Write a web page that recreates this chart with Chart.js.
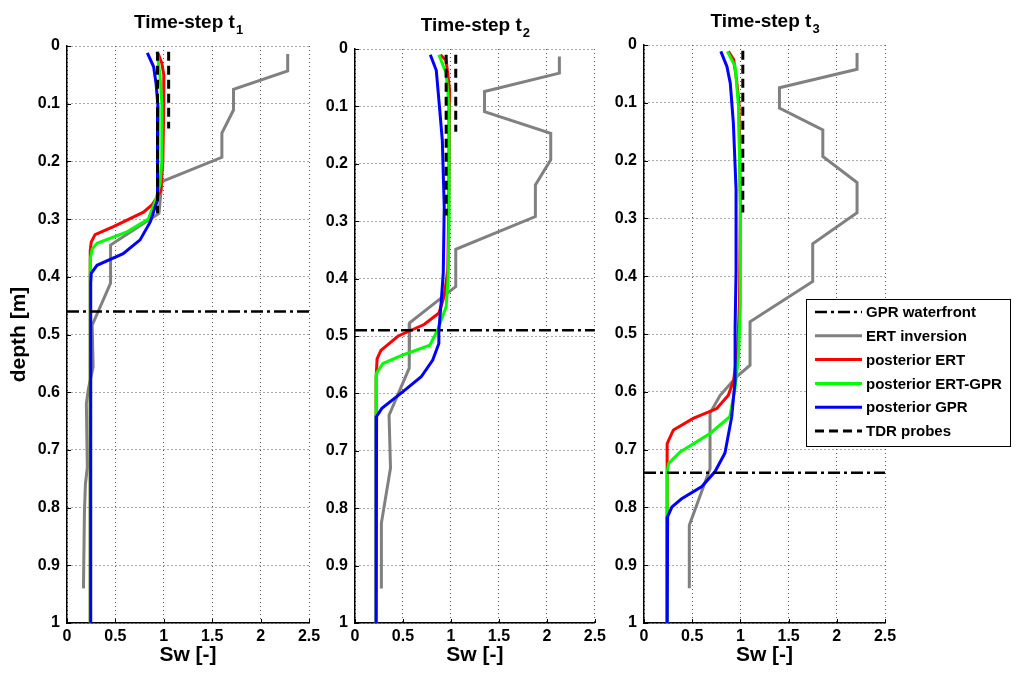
<!DOCTYPE html>
<html>
<head>
<meta charset="utf-8">
<title>Sw profiles</title>
<script src="https://cdn.jsdelivr.net/npm/chart.js@4.4.0/dist/chart.umd.min.js"></script>
<style>
  html, body { margin: 0; padding: 0; background: #fff; }
  body { width: 1018px; height: 673px; position: relative; overflow: hidden; }
  canvas { position: absolute; top: 0; }
</style>
</head>
<body>
<canvas id="chartT1" width="325" height="673" style="left:0px"></canvas>
<canvas id="chartT2" width="305" height="673" style="left:305px"></canvas>
<canvas id="chartT3" width="423" height="673" style="left:595px"></canvas>
<script>
// axis ticks
const depthTicks = [0, 0.1, 0.2, 0.3, 0.4, 0.5, 0.6, 0.7, 0.8, 0.9, 1];
const swTicks = [0, 0.5, 1, 1.5, 2, 2.5];

// profiles as [Sw, depth] pairs (null = gap)
// Time-step t1
const ertT1 = [[2.28,0.014],[2.28,0.043],[1.72,0.075],[1.72,0.111],[1.60,0.151],[1.60,0.193],[0.98,0.235],[0.95,0.29],[0.45,0.345],[0.45,0.411],[0.26,0.484],[0.27,0.556],[0.22,0.595],[0.20,0.62],[0.21,0.73],[0.19,0.76],[0.18,0.81],[0.17,0.94]];
const postErtT1 = [[0.94,0.012],[0.98,0.03],[1.0,0.05],[1.0,0.1],[0.99,0.2],[0.97,0.25],[0.92,0.265],[0.88,0.275],[0.79,0.288],[0.48,0.313],[0.29,0.327],[0.25,0.34],[0.24,0.355],[0.24,1.0]];
const postErtGprT1 = [[0.93,0.01],[0.96,0.05],[0.98,0.1],[0.98,0.2],[0.96,0.24],[0.92,0.265],[0.84,0.3],[0.62,0.322],[0.31,0.342],[0.26,0.352],[0.24,0.37],[0.24,0.403],[0.24,1.0]];
const postGprT1 = [[0.83,0.012],[0.895,0.036],[0.92,0.065],[0.94,0.105],[0.94,0.22],[0.93,0.267],[0.86,0.305],[0.755,0.336],[0.58,0.36],[0.31,0.38],[0.25,0.394],[0.245,0.411],[0.245,1.0]];
const tdrT1 = [[0.935,0.01],[0.935,0.29],null,[1.05,0.01],[1.05,0.143]];
const gprFrontT1 = 0.46;

// Time-step t2
const ertT2 = [[2.13,0.013],[2.13,0.042],[1.35,0.074],[1.35,0.109],[2.04,0.147],[2.04,0.193],[1.88,0.237],[1.88,0.292],[1.05,0.349],[1.05,0.414],[0.57,0.477],[0.565,0.556],[0.355,0.638],[0.37,0.73],[0.275,0.826],[0.275,0.94]];
const postErtT2 = [[0.89,0.01],[0.95,0.02],[0.985,0.07],[0.98,0.2],[0.975,0.3],[0.967,0.385],[0.93,0.43],[0.875,0.46],[0.72,0.48],[0.45,0.50],[0.27,0.525],[0.23,0.54],[0.22,0.575],[0.22,1.0]];
const postErtGprT2 = [[0.874,0.01],[0.95,0.042],[0.98,0.1],[0.98,0.3],[0.97,0.4],[0.95,0.449],[0.86,0.49],[0.78,0.516],[0.50,0.533],[0.29,0.548],[0.225,0.565],[0.22,0.643],[0.22,1.0]];
const postGprT2 = [[0.785,0.01],[0.847,0.037],[0.88,0.1],[0.91,0.159],[0.93,0.275],[0.92,0.39],[0.90,0.437],[0.874,0.49],[0.874,0.513],[0.81,0.542],[0.69,0.571],[0.50,0.597],[0.28,0.626],[0.225,0.64],[0.22,0.66],[0.22,1.0]];
const tdrT2 = [[0.95,0.01],[0.95,0.29],null,[1.05,0.01],[1.05,0.144]];
const gprFrontT2 = 0.49;

// Time-step t3
const ertT3 = [[2.21,0.014],[2.21,0.042],[1.405,0.074],[1.405,0.109],[1.855,0.147],[1.855,0.193],[2.21,0.238],[2.21,0.29],[1.75,0.344],[1.75,0.409],[1.10,0.479],[1.10,0.554],[0.96,0.574],[0.79,0.606],[0.685,0.637],[0.685,0.733],[0.47,0.831],[0.47,0.94]];
const postErtT3 = [[0.875,0.011],[0.93,0.025],[0.96,0.06],[0.985,0.1],[1.0,0.28],[0.99,0.45],[0.97,0.528],[0.93,0.58],[0.875,0.606],[0.755,0.629],[0.51,0.646],[0.305,0.666],[0.255,0.684],[0.24,0.69],[0.24,0.735],[0.24,1.0]];
const postErtGprT3 = [[0.865,0.011],[0.945,0.037],[0.98,0.106],[1.0,0.28],[1.0,0.45],[0.98,0.54],[0.945,0.594],[0.89,0.643],[0.685,0.672],[0.375,0.704],[0.255,0.724],[0.24,0.74],[0.24,0.825],[0.24,1.0]];
const postGprT3 = [[0.797,0.011],[0.86,0.037],[0.895,0.066],[0.927,0.135],[0.955,0.25],[0.955,0.39],[0.945,0.49],[0.945,0.58],[0.91,0.643],[0.84,0.706],[0.737,0.738],[0.60,0.764],[0.39,0.785],[0.29,0.799],[0.245,0.816],[0.24,0.83],[0.24,1.0]];
const tdrT3 = [[1.025,0.01],[1.025,0.29]];
const gprFrontT3 = 0.74;

// line styles, legend order
const FONT = '"Liberation Sans", Arial, sans-serif';
const styles = [
  { key: 'gpr',    label: 'GPR waterfront',     color: '#000000', width: 2.5, dash: [12, 4, 3, 4] },
  { key: 'ert',    label: 'ERT inversion',      color: '#808080', width: 3,   dash: [] },
  { key: 'pErt',   label: 'posterior ERT',      color: '#ff0000', width: 3,   dash: [] },
  { key: 'pErtGpr',label: 'posterior ERT-GPR',  color: '#00ff00', width: 3,   dash: [] },
  { key: 'pGpr',   label: 'posterior GPR',      color: '#0000ff', width: 3,   dash: [] },
  { key: 'tdr',    label: 'TDR probes',         color: '#000000', width: 3,   dash: [9, 5] }
];
const styleOf = k => styles.find(s => s.key === k);

function pts(arr) {
  return arr.map(p => p ? { x: p[0], y: p[1] } : { x: null, y: null });
}

function lineSet(key, data) {
  const s = styleOf(key);
  return {
    label: s.label, data: data,
    showLine: true, fill: false, pointRadius: 0, pointHoverRadius: 0,
    borderColor: s.color, backgroundColor: s.color,
    borderWidth: s.width, borderDash: s.dash, tension: 0, spanGaps: false
  };
}

// title with subscript, inside ticks, optional legend box
function decorPlugin(sub, withLegend) {
  return {
    id: 'decor',
    beforeDatasetsDraw(chart) {
      const { ctx, chartArea: a, scales } = chart;
      ctx.save();
      ctx.strokeStyle = '#000';
      ctx.lineWidth = 1;
      ctx.beginPath();
      swTicks.forEach(v => {
        const x = Math.round(scales.x.getPixelForValue(v)) + 0.5;
        ctx.moveTo(x, a.bottom); ctx.lineTo(x, a.bottom - 4);
      });
      depthTicks.forEach(v => {
        const y = Math.round(scales.y.getPixelForValue(v)) + 0.5;
        ctx.moveTo(a.left, y); ctx.lineTo(a.left + 4, y);
      });
      ctx.stroke();
      ctx.restore();
    },
    afterDraw(chart) {
      const { ctx, chartArea: a } = chart;
      ctx.save();
      ctx.fillStyle = '#000';
      ctx.textBaseline = 'alphabetic';
      const main = 'Time-step t';
      ctx.font = 'bold 19px ' + FONT;
      const wMain = ctx.measureText(main).width;
      ctx.font = 'bold 13px ' + FONT;
      const wSub = ctx.measureText(sub).width;
      const x0 = (a.left + a.right) / 2 - (wMain + wSub) / 2;
      const yb = a.top - 18;
      ctx.font = 'bold 19px ' + FONT;
      ctx.fillText(main, x0, yb);
      ctx.font = 'bold 13px ' + FONT;
      ctx.fillText(sub, x0 + wMain + 1, yb + 6);

      if (withLegend) {
        const bx = 211.5, by = 299.5, bw = 204, bh = 147;
        ctx.fillStyle = '#fff';
        ctx.fillRect(bx, by, bw, bh);
        ctx.strokeStyle = '#000';
        ctx.lineWidth = 1;
        ctx.setLineDash([]);
        ctx.strokeRect(bx, by, bw, bh);
        ctx.font = 'bold 15px ' + FONT;
        ctx.textBaseline = 'middle';
        styles.forEach((s, i) => {
          const y = 312 + i * 23.8;
          ctx.beginPath();
          ctx.strokeStyle = s.color;
          ctx.lineWidth = s.width;
          ctx.setLineDash(s.dash);
          ctx.moveTo(220, y); ctx.lineTo(267, y);
          ctx.stroke();
          ctx.setLineDash([]);
          ctx.fillStyle = '#000';
          ctx.fillText(s.label, 271, y + 1);
        });
      }
      ctx.restore();
    }
  };
}

function makePanel(canvasId, d, lay) {
  const datasets = [
    lineSet('gpr', [{ x: swTicks[0], y: d.front }, { x: swTicks[swTicks.length - 1], y: d.front }]),
    lineSet('tdr', pts(d.tdr)),
    lineSet('pGpr', pts(d.pGpr)),
    lineSet('pErtGpr', pts(d.pErtGpr)),
    lineSet('pErt', pts(d.pErt)),
    lineSet('ert', pts(d.ert))
  ];
  const tickFont = { family: FONT, size: 16, weight: 'bold' };
  const gridOpts = { color: '#555', lineWidth: 1, drawTicks: false };
  const borderOpts = { display: true, color: '#000', width: 1.5, dash: [1, 3] };
  return new Chart(document.getElementById(canvasId), {
    type: 'scatter',
    data: { datasets: datasets },
    options: {
      responsive: false,
      animation: false,
      events: [],
      layout: { padding: lay.padding },
      plugins: { legend: { display: false }, tooltip: { enabled: false } },
      scales: {
        x: {
          type: 'linear', min: 0, max: 2.5,
          afterBuildTicks: sc => { sc.ticks = swTicks.map(v => ({ value: v })); },
          afterFit: sc => { sc.height = 50; },
          ticks: { font: tickFont, color: '#000', padding: 4, maxRotation: 0, autoSkip: false, callback: v => String(v) },
          grid: gridOpts, border: borderOpts,
          title: { display: true, text: 'Sw [-]', color: '#000', font: { family: FONT, size: 21, weight: 'bold' }, padding: { top: 0, bottom: 5 } }
        },
        y: {
          type: 'linear', min: 0, max: 1, reverse: true,
          afterBuildTicks: sc => { sc.ticks = depthTicks.map(v => ({ value: v })); },
          afterFit: sc => { sc.width = lay.yw; },
          ticks: { font: tickFont, color: '#000', padding: 7, autoSkip: false, callback: v => String(v) },
          grid: gridOpts, border: borderOpts,
          title: { display: lay.yTitle, text: 'depth [m]', color: '#000', font: { family: FONT, size: 21, weight: 'bold' }, padding: { top: 0, bottom: 0 } }
        }
      }
    },
    plugins: [decorPlugin(lay.sub, lay.legend)]
  });
}

document.addEventListener('DOMContentLoaded', function() {
  makePanel('chartT1',
    { ert: ertT1, pErt: postErtT1, pErtGpr: postErtGprT1, pGpr: postGprT1, tdr: tdrT1, front: gprFrontT1 },
    { padding: { left: 7, right: 16, top: 46, bottom: 0 }, yw: 60, yTitle: true, sub: '1', legend: false });
  makePanel('chartT2',
    { ert: ertT2, pErt: postErtT2, pErtGpr: postErtGprT2, pGpr: postGprT2, tdr: tdrT2, front: gprFrontT2 },
    { padding: { left: 10, right: 14, top: 49, bottom: 0 }, yw: 40, yTitle: false, sub: '2', legend: false });
  makePanel('chartT3',
    { ert: ertT3, pErt: postErtT3, pErtGpr: postErtGprT3, pGpr: postGprT3, tdr: tdrT3, front: gprFrontT3 },
    { padding: { left: 9, right: 133, top: 45, bottom: 0 }, yw: 40, yTitle: false, sub: '3', legend: true });
});
</script>
</body>
</html>
